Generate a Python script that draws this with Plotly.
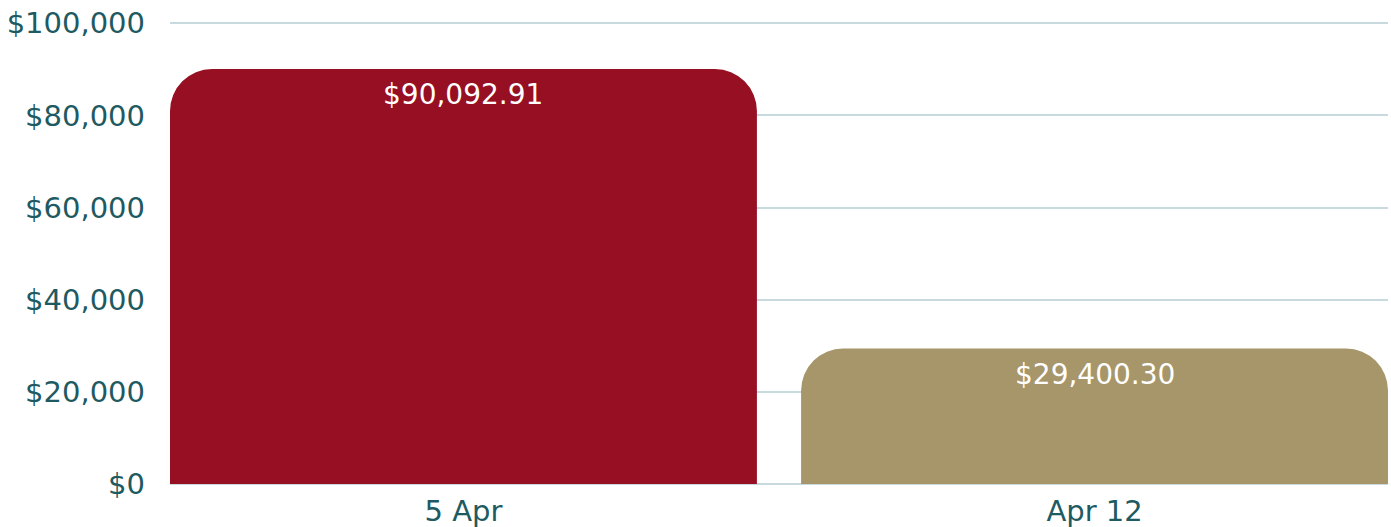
import plotly.graph_objects as go

categories = ["5 Apr", "Apr 12"]
values = [90092.91, 29400.30]
labels = ["$90,092.91", "$29,400.30"]
colors = ["#960F22", "#A6966A"]
tick_vals = [0, 20000, 40000, 60000, 80000, 100000]
tick_text = ["$0", "$20,000", "$40,000", "$60,000", "$80,000", "$100,000"]

FONT = "DejaVu Sans"
TEXT_COLOR = "#1E5A62"

fig = go.Figure()
fig.add_trace(go.Bar(
    x=categories, y=values,
    marker=dict(color=colors, cornerradius=42, line=dict(width=0)),
    hoverinfo="skip",
))

for c, v, t in zip(categories, values, labels):
    fig.add_annotation(x=c, y=v, text=t, showarrow=False, yanchor="middle",
                       yshift=-26, font=dict(family=FONT, size=28, color="white"))

fig.update_layout(
    width=1391, height=527,
    margin=dict(l=170, r=3, t=21, b=43),
    paper_bgcolor="white", plot_bgcolor="white",
    bargap=0.07,
    showlegend=False,
    font=dict(family=FONT, size=29, color=TEXT_COLOR),
)
fig.update_xaxes(range=[-0.465, 1.465], showgrid=False, showline=False,
                 automargin=False,
                 ticks="", ticklabelstandoff=7, ticklabeloverflow="allow",
                 tickfont=dict(family=FONT, size=29, color=TEXT_COLOR))
fig.update_yaxes(range=[0, 100500], tickvals=tick_vals, ticktext=tick_text,
                 automargin=False,
                 showgrid=True, gridcolor="#C9DADF", gridwidth=1.5,
                 zeroline=True, zerolinecolor="#C9DADF", zerolinewidth=1.5,
                 ticks="", ticklabelstandoff=24, ticklabeloverflow="allow",
                 tickfont=dict(family=FONT, size=29, color=TEXT_COLOR))

fig.write_html(
    "out.html",
    config={"displayModeBar": False},
    post_script="document.body.style.margin='0';document.body.style.overflow='hidden';",
)
